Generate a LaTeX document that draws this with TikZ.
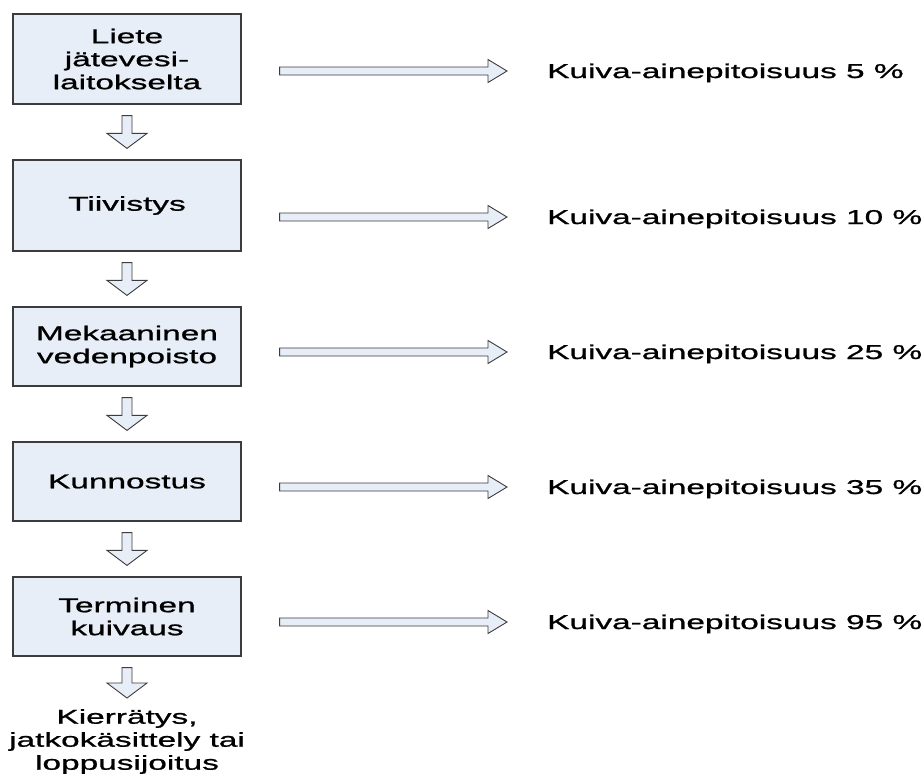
\documentclass[tikz,border=0pt]{standalone}
\usepackage{fontspec}
\setmainfont[FakeStretch=1.67,FakeBold=1]{Liberation Sans}
\usepackage{tikz}
\usetikzlibrary{calc}
\usetikzlibrary{positioning}
\definecolor{boxfill}{RGB}{232,238,247}
\definecolor{boxline}{RGB}{60,60,60}
\tikzstyle{stage}=[draw=boxline,fill=boxfill,line width=1.2pt,minimum width=228pt,
                align=center,inner sep=0pt]
\tikzstyle{dry}=[anchor=base west,inner sep=0pt]
\tikzstyle{blk}=[draw=boxline,fill=boxfill,line width=0.9pt,line join=miter]
\newcommand{\blkdown}[2]{\draw[blk] let \p1=($(#1.south)+(0,11)$), \p2=($(#2.north)+(0,-11)$) in
  (\x1-5pt,\y1) -- (\x1+5pt,\y1) -- (\x1+5pt,\y2+15pt) -- (\x1+20pt,\y2+15pt) -- (\x1,\y2)
  -- (\x1-20pt,\y2+15pt) -- (\x1-5pt,\y2+15pt) -- cycle;}
\newcommand{\blkright}[2]{\draw[blk] let \p1=(#1.east), \p2=($(#2.base west)+(0,-7)$) in
  (\x1+38pt,\y2+4pt) -- (\x2-59pt,\y2+4pt) -- (\x2-59pt,\y2+11.5pt) -- (\x2-40pt,\y2)
  -- (\x2-59pt,\y2-11.5pt) -- (\x2-59pt,\y2-4pt) -- (\x1+38pt,\y2-4pt) -- cycle;}

\begin{document}
\begin{tikzpicture}[x=1pt,y=-1pt,font=\fontsize{20}{23}\selectfont]
\useasboundingbox (0,0) rectangle (923,774);
\node[stage,minimum height=90pt] (b1) at (127,59) {Liete\\jätevesi-\\laitokselta};
\node[stage,minimum height=91pt] (b2) at (127,205.5) {Tiivistys};
\node[stage,minimum height=79pt] (b3) at (127,346.5) {Mekaaninen\\vedenpoisto};
\node[stage,minimum height=79pt] (b4) at (127,481.5) {Kunnostus};
\node[stage,minimum height=79pt] (b5) at (127,616.5) {Terminen\\kuivaus};
\node[align=center,inner sep=0pt,anchor=north] (end) at (127,709)
  {Kierrätys,\\jatkokäsittely tai\\loppusijoitus};
\foreach \i/\p/\y in {1/5/78,2/10/224,3/25/359,4/35/494,5/95/629}
\node[dry] (k\i) at (547,\y) {Kuiva-ainepitoisuus \p{} \%};
\foreach \i in {1,...,5}
\blkright{b\i}{k\i};
\foreach \i/\j in {b1/b2,b2/b3,b3/b4,b4/b5,b5/end}
\blkdown{\i}{\j};
\end{tikzpicture}
\end{document}
